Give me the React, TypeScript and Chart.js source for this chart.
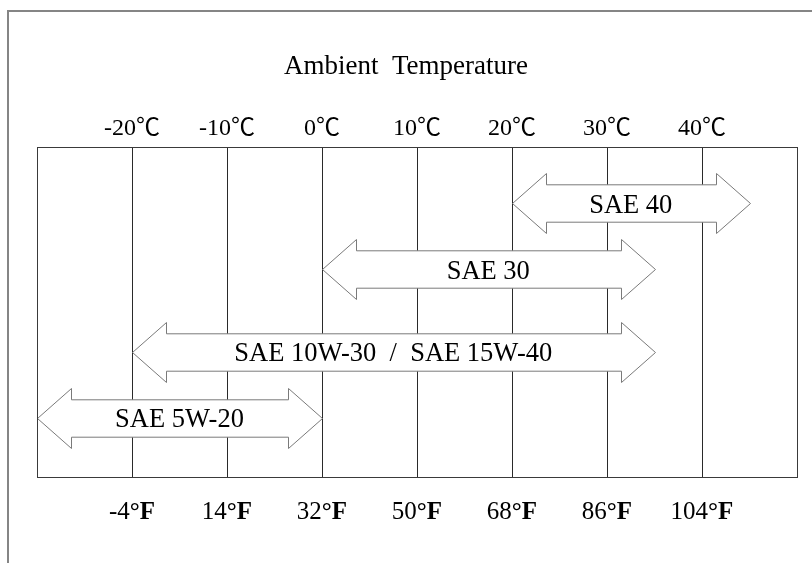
import React, { useEffect, useRef } from "react";
import { Chart, registerables } from "chart.js";

Chart.register(...registerables);

// ---- data ----
const titleText = "Ambient  Temperature";
const celsiusTicks = [-20, -10, 0, 10, 20, 30, 40];
const fahrenheitTicks = ["-4", "14", "32", "50", "68", "86", "104"];
const oilGrades = ["SAE 5W-20", "SAE 10W-30  /  SAE 15W-40", "SAE 30", "SAE 40"];
const rangeStart = [-30, -20, 0, 20];
const rangeEnd = [0, 35, 35, 45];
const rowLevel = [18, 38, 63, 83];

const SERIF = "'Liberation Serif', 'Times New Roman', 'Noto Sans CJK JP', serif";

const sketchPlugin = {
  id: "sketch",
  beforeDraw(chart: any) {
    const ctx = chart.ctx;
    ctx.save();
    ctx.fillStyle = "#ffffff";
    ctx.fillRect(0, 0, chart.width, chart.height);
    ctx.fillStyle = "#858585";
    ctx.fillRect(7, 10, 2, chart.height - 10);
    ctx.fillRect(7, 10, chart.width - 7, 2);
    ctx.restore();
  },
  afterDatasetsDraw(chart: any) {
    const ctx = chart.ctx;
    const headLen = 34;
    const headHalf = 30;
    const shaftHalf = 18.7;
    ctx.save();
    chart.data.datasets.forEach((ds: any, i: number) => {
      const meta = chart.getDatasetMeta(i);
      const p0 = meta.data[0];
      const p1 = meta.data[1];
      const x0 = Math.round(p0.x) + 0.5;
      const x1 = Math.round(p1.x) + 0.5;
      const y = Math.round(p0.y) + 0.5;
      ctx.beginPath();
      ctx.moveTo(x0, y);
      ctx.lineTo(x0 + headLen, y - headHalf);
      ctx.lineTo(x0 + headLen, y - shaftHalf);
      ctx.lineTo(x1 - headLen, y - shaftHalf);
      ctx.lineTo(x1 - headLen, y - headHalf);
      ctx.lineTo(x1, y);
      ctx.lineTo(x1 - headLen, y + headHalf);
      ctx.lineTo(x1 - headLen, y + shaftHalf);
      ctx.lineTo(x0 + headLen, y + shaftHalf);
      ctx.lineTo(x0 + headLen, y + headHalf);
      ctx.closePath();
      ctx.fillStyle = "#ffffff";
      ctx.fill();
      ctx.strokeStyle = "#7a7a7a";
      ctx.lineWidth = 1;
      ctx.stroke();
      ctx.fillStyle = "#000000";
      ctx.font = `26.5px ${SERIF}`;
      ctx.textAlign = "center";
      ctx.textBaseline = "alphabetic";
      ctx.fillText(ds.label, (p0.x + p1.x) / 2, p0.y + 9.5);
    });
    ctx.restore();
  },
  afterDraw(chart: any) {
    const ctx = chart.ctx;
    const area = chart.chartArea;
    const xs = chart.scales.x;
    ctx.save();
    // plot box
    ctx.strokeStyle = "#3a3a3a";
    ctx.lineWidth = 1;
    ctx.strokeRect(
      Math.round(area.left) + 0.5,
      Math.round(area.top) + 0.5,
      Math.round(area.right - area.left),
      Math.round(area.bottom - area.top)
    );
    // title
    ctx.fillStyle = "#000000";
    ctx.textAlign = "center";
    ctx.textBaseline = "alphabetic";
    ctx.font = `27px ${SERIF}`;
    ctx.fillText(titleText, chart.width / 2, 73.5);
    // celsius labels
    ctx.font = `24px ${SERIF}`;
    celsiusTicks.forEach((c) => {
      ctx.fillText(`${c}\u2103`, xs.getPixelForValue(c), area.top - 12.5);
    });
    // fahrenheit labels
    ctx.textAlign = "left";
    celsiusTicks.forEach((c, i) => {
      const num = fahrenheitTicks[i];
      ctx.font = `25px ${SERIF}`;
      const wN = ctx.measureText(num).width;
      ctx.font = `bold 25px ${SERIF}`;
      const wB = ctx.measureText("\u00B0F").width;
      const sx = xs.getPixelForValue(c) - (wN + wB) / 2;
      const by = area.bottom + 41.5;
      ctx.font = `25px ${SERIF}`;
      ctx.fillText(num, sx, by);
      ctx.font = `bold 25px ${SERIF}`;
      ctx.fillText("\u00B0F", sx + wN, by);
    });
    ctx.restore();
  },
};

export default function App() {
  const canvasRef = useRef<HTMLCanvasElement | null>(null);

  useEffect(() => {
    document.body.style.margin = "0";
    const canvas = canvasRef.current;
    if (!canvas) return;
    const chart = new Chart(canvas, {
      type: "scatter",
      data: {
        datasets: oilGrades.map((g, i) => ({
          label: g,
          data: [
            { x: rangeStart[i], y: rowLevel[i] },
            { x: rangeEnd[i], y: rowLevel[i] },
          ],
          pointRadius: 0,
          pointHoverRadius: 0,
          showLine: false,
        })),
      },
      options: {
        responsive: false,
        animation: false,
        devicePixelRatio: 1,
        events: [],
        layout: { padding: { left: 37, right: 15, top: 147, bottom: 86 } },
        plugins: {
          legend: { display: false },
          tooltip: { enabled: false },
          title: { display: false },
        },
        scales: {
          x: {
            type: "linear",
            min: -30,
            max: 50,
            ticks: { display: false, stepSize: 10 },
            grid: { color: "#2a2a2a", lineWidth: 1, drawTicks: false },
            border: { display: true, color: "#3a3a3a" },
          },
          y: {
            type: "linear",
            min: 0,
            max: 100,
            display: false,
          },
        },
      },
      plugins: [sketchPlugin],
    });
    return () => chart.destroy();
  }, []);

  return (
    <div style={{ width: 812, height: 563, position: "relative", background: "#fff" }}>
      <canvas ref={canvasRef} width={812} height={563} style={{ display: "block" }} />
    </div>
  );
}
